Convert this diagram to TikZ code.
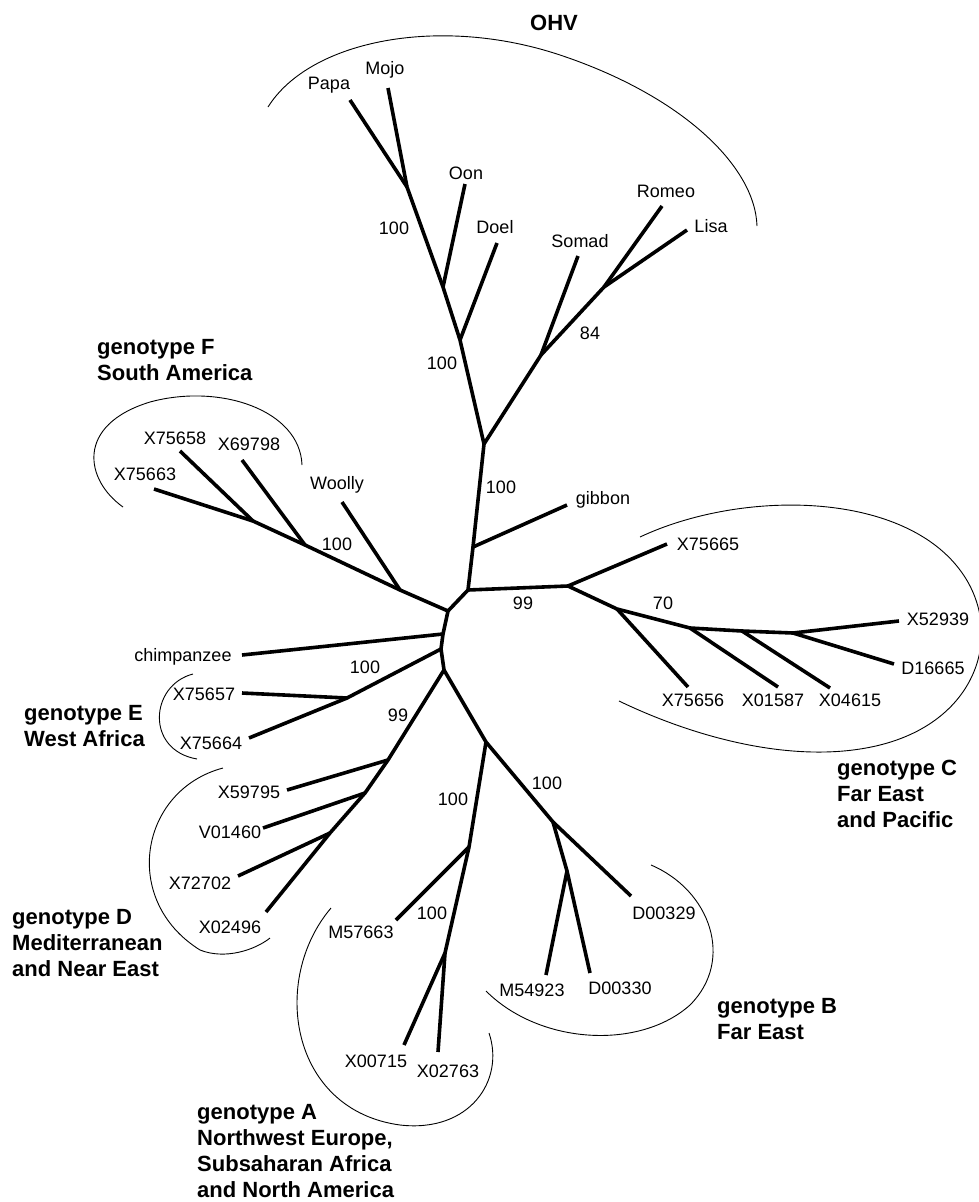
\documentclass[tikz,border=0pt]{standalone}
\usepackage{fontspec}
\setmainfont{Liberation Sans}

\begin{document}
\begin{tikzpicture}[
  x=1pt,y=-1pt,
  branch/.style={line width=3.6pt,line join=miter},
  bubble/.style={line width=0.9pt},
  leaf/.style={font=\fontsize{18}{20}\selectfont,inner sep=0pt},
  boot/.style={font=\fontsize{18}{20}\selectfont,inner sep=0pt},
  group/.style={font=\fontsize{22}{26}\selectfont\bfseries,align=left,
                anchor=north west,inner sep=0pt}
]
\useasboundingbox (0,0) rectangle (978,1202);

% inner vertices
\coordinate (O0) at (484,444);
\coordinate (O1) at (460,340);
\coordinate (O2) at (443,287);
\coordinate (O3) at (407,187);
\coordinate (O4) at (541,355);
\coordinate (O5) at (604,287);
\coordinate (gib) at (473,547);
\coordinate (c1) at (468,590);
\coordinate (c2) at (448,611);
\coordinate (cH) at (443,634);
\coordinate (cE) at (441,649);
\coordinate (c4) at (444,670);
\coordinate (cC) at (568,586);
\coordinate (C1) at (617,609);
\coordinate (C2) at (690,628);
\coordinate (C3) at (742,631);
\coordinate (C4) at (793,633);
\coordinate (W) at (400,590);
\coordinate (F1) at (305,545);
\coordinate (F2) at (253,521);
\coordinate (E1) at (347,698);
\coordinate (D1) at (388,760);
\coordinate (D2) at (365,793);
\coordinate (D3) at (330,833);
\coordinate (AB) at (486,742);
\coordinate (A1) at (469,847);
\coordinate (A2) at (445,953);
\coordinate (B1) at (553,822);
\coordinate (B2) at (567,871);

% tips
\coordinate (tPapa) at (350,100);
\coordinate (tMojo) at (388,88);
\coordinate (tOon) at (465,184);
\coordinate (tDoel) at (497,243);
\coordinate (tSomad) at (578,256);
\coordinate (tRomeo) at (662,206);
\coordinate (tLisa) at (687,230);
\coordinate (tGibbon) at (567,505);
\coordinate (tX75665) at (667,544);
\coordinate (tX75656) at (688,687);
\coordinate (tX01587) at (778,687);
\coordinate (tX04615) at (830,688);
\coordinate (tX52939) at (899,621);
\coordinate (tD16665) at (894,664);
\coordinate (tWoolly) at (342,502);
\coordinate (tX69798) at (242,460);
\coordinate (tX75658) at (180,451);
\coordinate (tX75663) at (154,489);
\coordinate (tChimp) at (242,655);
\coordinate (tX75657) at (242,693);
\coordinate (tX75664) at (249,738);
\coordinate (tX59795) at (287,790);
\coordinate (tV01460) at (263,828);
\coordinate (tX72702) at (238,876);
\coordinate (tX02496) at (266,912);
\coordinate (tM57663) at (396,920);
\coordinate (tX00715) at (404,1045);
\coordinate (tX02763) at (438,1052);
\coordinate (tM54923) at (546,975);
\coordinate (tD00330) at (590,973);
\coordinate (tD00329) at (631,896);

% branches
\draw[branch] (O0) -- (gib) -- (c1) -- (c2) -- (cH) -- (cE) -- (c4);
\draw[branch] (O0) -- (O1) -- (O2) -- (O3) -- (tMojo);
\draw[branch] (O3) -- (tPapa);
\draw[branch] (O2) -- (tOon);
\draw[branch] (O1) -- (tDoel);
\draw[branch] (O0) -- (O4) -- (O5) -- (tLisa);
\draw[branch] (O4) -- (tSomad);
\draw[branch] (O5) -- (tRomeo);
\draw[branch] (gib) -- (tGibbon);
\draw[branch] (c1) -- (cC) -- (C1) -- (C2) -- (C3) -- (C4) -- (tX52939);
\draw[branch] (cC) -- (tX75665);
\draw[branch] (C1) -- (tX75656);
\draw[branch] (C2) -- (tX01587);
\draw[branch] (C3) -- (tX04615);
\draw[branch] (C4) -- (tD16665);
\draw[branch] (c2) -- (W) -- (F1) -- (F2) -- (tX75663);
\draw[branch] (W) -- (tWoolly);
\draw[branch] (F1) -- (tX69798);
\draw[branch] (F2) -- (tX75658);
\draw[branch] (cH) -- (tChimp);
\draw[branch] (cE) -- (E1) -- (tX75664);
\draw[branch] (E1) -- (tX75657);
\draw[branch] (c4) -- (D1) -- (D2) -- (D3) -- (tX02496);
\draw[branch] (D1) -- (tX59795);
\draw[branch] (D2) -- (tV01460);
\draw[branch] (D3) -- (tX72702);
\draw[branch] (c4) -- (AB) -- (B1) -- (tD00329);
\draw[branch] (B1) -- (B2) -- (tM54923);
\draw[branch] (B2) -- (tD00330);
\draw[branch] (AB) -- (A1) -- (A2) -- (tX02763);
\draw[branch] (A1) -- (tM57663);
\draw[branch] (A2) -- (tX00715);

% leaf names
\node[leaf] (papa) at (329,85) {Papa};
\node[leaf] (mojo) at (385,70) {Mojo};
\node[leaf] (oon) at (466,173) {Oon};
\node[leaf] (doel) at (495,227) {Doel};
\node[leaf] (somad) at (580,241) {Somad};
\node[leaf] (romeo) at (666,191) {Romeo};
\node[leaf] (lisa) at (711,226) {Lisa};
\node[leaf] (gibbon) at (603,500) {gibbon};
\node[leaf] (x75665) at (708,544) {X75665};
\node[leaf] (x52939) at (938,619) {X52939};
\node[leaf] (d16665) at (933,668) {D16665};
\node[leaf] (x75656) at (693,700) {X75656};
\node[leaf] (x01587) at (773,700) {X01587};
\node[leaf] (x04615) at (850,700) {X04615};
\node[leaf] (d00329) at (664,913) {D00329};
\node[leaf] (m54923) at (532,990) {M54923};
\node[leaf] (d00330) at (620,988) {D00330};
\node[leaf] (x00715) at (376,1061) {X00715};
\node[leaf] (x02763) at (448,1071) {X02763};
\node[leaf] (m57663) at (361,932) {M57663};
\node[leaf] (x02496) at (230,927) {X02496};
\node[leaf] (x72702) at (200,883) {X72702};
\node[leaf] (v01460) at (230,832) {V01460};
\node[leaf] (x59795) at (249,792) {X59795};
\node[leaf] (x75664) at (211,743) {X75664};
\node[leaf] (x75657) at (204,694) {X75657};
\node[leaf] (chimp) at (183,657) {chimpanzee};
\node[leaf] (x75663) at (145,474) {X75663};
\node[leaf] (x75658) at (175,438) {X75658};
\node[leaf] (x69798) at (249,444) {X69798};
\node[leaf] (woolly) at (337,485) {Woolly};

% bootstrap values
\node[boot] (bO3) at (394,228) {100};
\node[boot] (bO1) at (442,363) {100};
\node[boot] (bO0) at (501,487) {100};
\node[boot] (bO5) at (590,333) {84};
\node[boot] (bC) at (523,603) {99};
\node[boot] (bC2) at (663,603) {70};
\node[boot] (bF) at (337,544) {100};
\node[boot] (bE) at (365,667) {100};
\node[boot] (bD) at (398,715) {99};
\node[boot] (bA) at (453,799) {100};
\node[boot] (bB) at (547,783) {100};
\node[boot] (bA2) at (432,913) {100};

% group names
\node[group,anchor=center] (ohv) at (554,23) {OHV};
\node[group] (gF) at (97,339) {genotype F\\South America};
\node[group] (gE) at (24,705) {genotype E\\West Africa};
\node[group] (gD) at (12,909) {genotype D\\Mediterranean\\and Near East};
\node[group] (gC) at (837,760) {genotype C\\Far East\\and Pacific};
\node[group] (gB) at (717,998) {genotype B\\Far East};
\node[group] (gA) at (197,1104) {genotype A\\Northwest Europe,\\Subsaharan Africa\\and North America};

% group outlines
\draw[bubble] (268,107) .. controls (310,40) and (440,15) .. (560,55)
  .. controls (680,95) and (755,165) .. (757,226);
\draw[bubble] (123,507) .. controls (85,480) and (75,425) .. (150,402)
  .. controls (220,383) and (300,410) .. (302,465);
\draw[bubble] (193,674) .. controls (150,685) and (145,750) .. (197,759);
\draw[bubble] (223,768) .. controls (140,790) and (120,900) .. (200,950)
  .. controls (225,960) and (255,950) .. (270,938);
\draw[bubble] (331,908) .. controls (270,980) and (290,1110) .. (400,1125)
  .. controls (470,1133) and (505,1080) .. (489,1033);
\draw[bubble] (651,865) .. controls (710,890) and (735,960) .. (690,1005)
  .. controls (640,1050) and (540,1045) .. (486,991);
\draw[bubble] (640,537) .. controls (740,490) and (900,490) .. (960,570)
  .. controls (1005,630) and (980,720) .. (880,745)
  .. controls (800,765) and (700,740) .. (619,701);
\end{tikzpicture}
\end{document}
